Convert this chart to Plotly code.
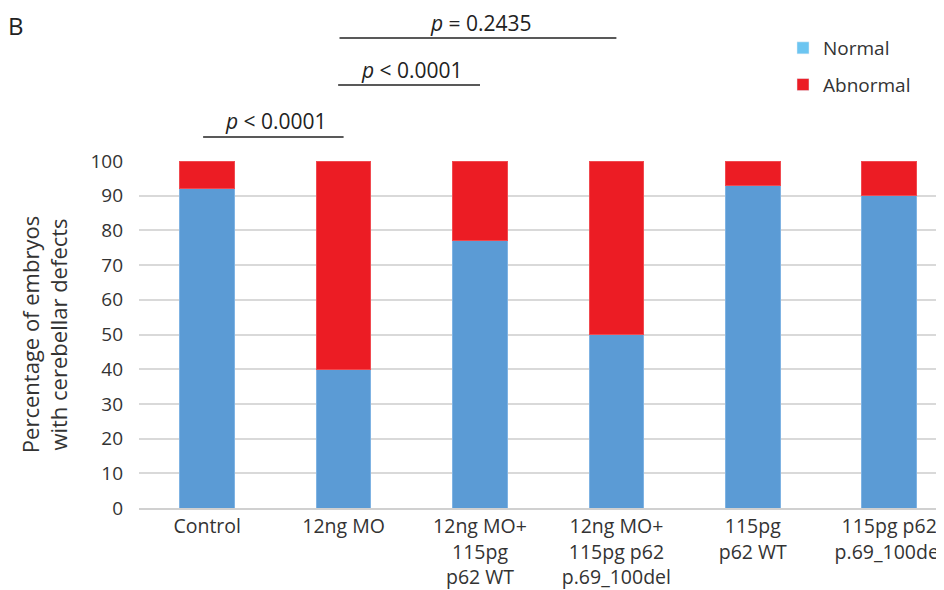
import plotly.graph_objects as go

categories = ["Control", "12ng MO", "12ng MO+<br>115pg<br>p62 WT", "12ng MO+<br>115pg p62<br>p.69_100del",
              "115pg<br>p62 WT", "115pg p62<br>p.69_100del"]
normal = [92, 40, 77, 50, 93, 90]
abnormal = [100 - v for v in normal]
yticks = list(range(0, 101, 10))
pvals = ["<i>p</i> < 0.0001", "<i>p</i> < 0.0001", "<i>p</i> = 0.2435"]

BLUE = "#5B9BD5"
RED = "#EC1C24"
LEG_BLUE = "#6CC5F1"

xpos = list(range(len(categories)))

# figure is offset 8px by the page's body margin; coordinates below are figure pixels
W, Hfig = 936, 582
left, top_px, bot_px = 131, 153, 500
PW = W - left
H = bot_px - top_px
step = 136.4

def py(p):
    return (bot_px - p) / H

fig = go.Figure()
fig.add_trace(go.Bar(x=xpos, y=normal, marker=dict(color=BLUE, line=dict(color="#7FB3E3", width=1)),
                     width=0.4, showlegend=False, name="Normal"))
fig.add_trace(go.Bar(x=xpos, y=abnormal, marker=dict(color=RED, line=dict(color="#F04A50", width=1)),
                     width=0.4, showlegend=False, name="Abnormal"))
# legend entries
fig.add_trace(go.Bar(x=[None], y=[None], name="Normal", marker_color=LEG_BLUE, legendgroup="a"))
fig.add_trace(go.Bar(x=[None], y=[None], name="Abnormal", marker_color=RED, legendgroup="b"))

brackets = [(-0.03, 1.0, 129, 113), (0.96, 2.0, 77, 62), (0.97, 3.0, 30, 15)]
for (x0, x1, ly, ty), txt in zip(brackets, pvals):
    fig.add_shape(type="line", xref="x", yref="paper", x0=x0, x1=x1, y0=py(ly), y1=py(ly),
                  line=dict(color="#222222", width=1.5))
    fig.add_annotation(xref="x", yref="paper", x=(x0 + x1) / 2 + 0.02, y=py(ty), text=txt, showarrow=False,
                       font=dict(size=21, color="#222222"), yanchor="middle")

fig.add_annotation(xref="paper", yref="paper", x=(-left - 2) / PW, y=py(17), text="B", showarrow=False,
                   xanchor="left", yanchor="middle", font=dict(size=24, color="#222222"))

fig.update_layout(
    width=W, height=Hfig,
    margin=dict(l=left, r=0, t=top_px, b=Hfig - bot_px),
    barmode="stack",
    plot_bgcolor="white", paper_bgcolor="white",
    font=dict(family="Open Sans", color="#333333"),
    legend=dict(x=(775 - left) / PW, y=py(21), xanchor="left", yanchor="top",
                font=dict(size=19, color="#333333"), tracegroupgap=9, traceorder="grouped",
                bgcolor="rgba(0,0,0,0)"),
    xaxis=dict(tickmode="array", tickvals=xpos, ticktext=categories, range=[-0.5, -0.5 + PW / step],
               tickfont=dict(size=19.5, color="#333333"), showline=True, linecolor="#D0D0D0", linewidth=1.5,
               ticks="", showgrid=False, zeroline=False),
    yaxis=dict(range=[0, 100], tickvals=yticks, ticktext=[str(t) for t in yticks],
               tickfont=dict(size=19, color="#333333"), showgrid=True, gridcolor="#D9D9D9", gridwidth=1.5,
               zeroline=False, ticks="", ticklabelstandoff=15,
               title=dict(text="Percentage of embryos<br>with cerebellar defects",
                          font=dict(size=22, color="#333333"), standoff=16)),
)

fig.write_html("out.html")
